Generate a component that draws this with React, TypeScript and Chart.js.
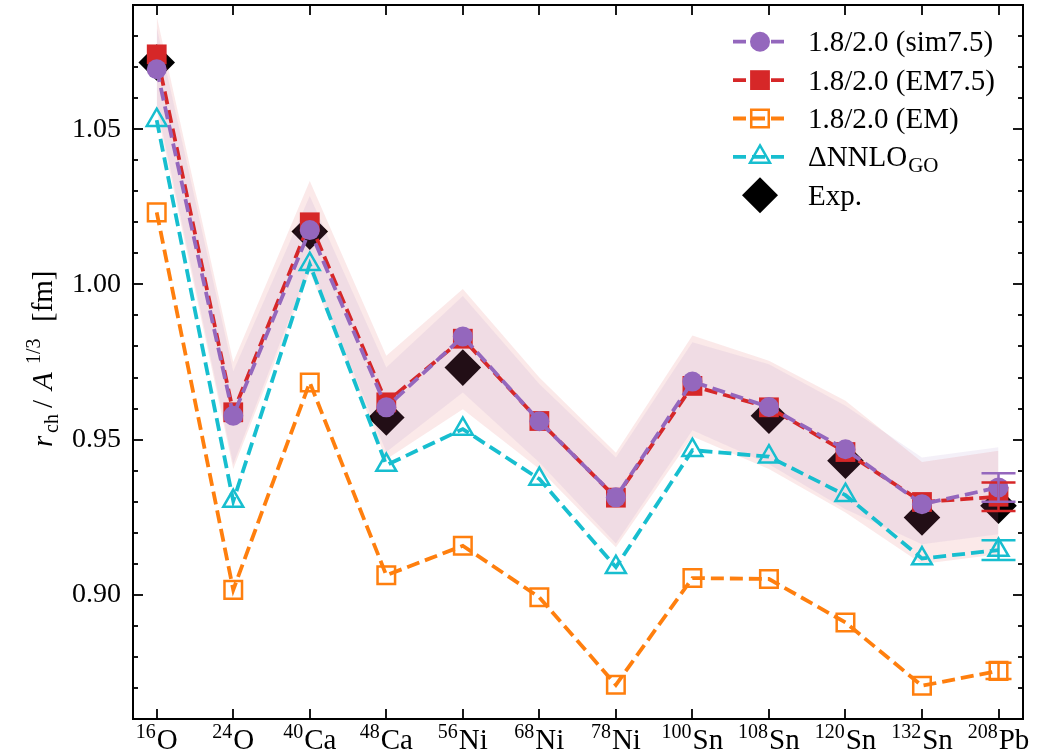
import React, { useEffect, useRef } from 'react';
import { Chart, registerables } from 'chart.js';

Chart.register(...registerables);

// ---------- data ----------
const massNumbers = ['16', '24', '40', '48', '56', '68', '78', '100', '108', '120', '132', '208'];
const elementSymbols = ['O', 'O', 'Ca', 'Ca', 'Ni', 'Ni', 'Ni', 'Sn', 'Sn', 'Sn', 'Sn', 'Pb'];

const yTickValues = [0.9, 0.95, 1.0, 1.05];

const sim75 = [1.0693, 0.9577, 1.0175, 0.9604, 0.9832, 0.9559, 0.9314, 0.9687, 0.9605, 0.9469, 0.9292, 0.9346];
const em75 = [1.0741, 0.9588, 1.02, 0.962, 0.9825, 0.956, 0.9313, 0.9673, 0.9604, 0.946, 0.9299, 0.9316];
const emPlain = [1.0232, 0.9016, 0.9684, 0.9063, 0.9158, 0.8992, 0.871, 0.9054, 0.9051, 0.8911, 0.8707, 0.8755];
const dnnloGO = [1.0529, 0.9302, 1.0065, 0.9418, 0.9534, 0.9373, 0.9089, 0.9466, 0.9445, 0.9321, 0.9117, 0.9144];
const expValues = [1.0715, null, 1.017, 0.9571, 0.9732, null, null, null, 0.9577, 0.9432, 0.9249, 0.9287];

const sim75Err = [null, null, null, null, null, null, null, null, null, null, null, 0.0046];
const em75Err = [null, null, null, null, null, null, null, null, null, null, null, 0.0046];
const emPlainErr = [null, null, null, null, null, null, null, null, null, null, null, 0.0026];
const dnnloErr = [null, null, null, null, null, null, null, null, null, null, null, 0.0032];

const em75BandLow = [1.056, 0.9405, 1.004, 0.9437, 0.9598, 0.9405, 0.9153, 0.951, 0.9405, 0.9265, 0.9099, 0.9131];
const em75BandHigh = [1.0864, 0.975, 1.0333, 0.977, 0.9985, 0.97, 0.9458, 0.9835, 0.9754, 0.9625, 0.9428, 0.9464];
const sim75BandLow = [1.058, 0.9421, 1.006, 0.946, 0.9652, 0.9426, 0.9165, 0.953, 0.9421, 0.9276, 0.9163, 0.9195];
const sim75BandHigh = [1.0828, 0.972, 1.0285, 0.9732, 0.9963, 0.9679, 0.9442, 0.9814, 0.9743, 0.9609, 0.9442, 0.9475];

const labelSim = '1.8/2.0 (sim7.5)';
const labelEM75 = '1.8/2.0 (EM7.5)';
const labelEM = '1.8/2.0 (EM)';
const labelDNNLO = '\u0394NNLO';
const labelDNNLOSub = 'GO';
const labelExp = 'Exp.';

// ---------- styles ----------
const PURPLE = '#9467bd';
const RED = '#d62728';
const ORANGE = '#ff7f0e';
const CYAN = '#17becf';
const FONT = "'Liberation Serif', 'Times New Roman', serif";
const DASH = [13, 6];
const LW = 3.8;

const pts = (arr: (number | null)[]) => arr.map((v, i) => ({ x: i, y: v }));

// ---------- marker helper (legend) ----------
function drawMarker(ctx: CanvasRenderingContext2D, kind: string, x: number, y: number, r: number, color: string, filled: boolean, lw: number) {
  ctx.save();
  ctx.setLineDash([]);
  ctx.beginPath();
  if (kind === 'circle') {
    ctx.arc(x, y, r, 0, Math.PI * 2);
  } else if (kind === 'rect') {
    const s = Math.SQRT1_2 * r;
    ctx.rect(x - s, y - s, 2 * s, 2 * s);
  } else if (kind === 'triangle') {
    let rad = 0;
    ctx.moveTo(x + Math.sin(rad) * r, y - Math.cos(rad) * r);
    rad += (2 * Math.PI) / 3;
    ctx.lineTo(x + Math.sin(rad) * r, y - Math.cos(rad) * r);
    rad += (2 * Math.PI) / 3;
    ctx.lineTo(x + Math.sin(rad) * r, y - Math.cos(rad) * r);
    ctx.closePath();
  } else if (kind === 'rectRot') {
    ctx.moveTo(x - r, y);
    ctx.lineTo(x, y - r);
    ctx.lineTo(x + r, y);
    ctx.lineTo(x, y + r);
    ctx.closePath();
  }
  if (filled) {
    ctx.fillStyle = color;
    ctx.fill();
  } else {
    ctx.lineWidth = lw;
    ctx.strokeStyle = color;
    ctx.stroke();
  }
  ctx.restore();
}

// ---------- plugins ----------
const errorBarSets = [
  { values: emPlain, errs: emPlainErr, color: ORANGE, cap: 13 },
  { values: dnnloGO, errs: dnnloErr, color: CYAN, cap: 17 },
  { values: em75, errs: em75Err, color: RED, cap: 17 },
  { values: sim75, errs: sim75Err, color: PURPLE, cap: 17 },
];

const errorBarPlugin = {
  id: 'errorBars',
  afterDatasetsDraw(chart: any) {
    const { ctx, scales } = chart;
    const xs = scales.x;
    const ys = scales.y;
    ctx.save();
    ctx.setLineDash([]);
    ctx.lineWidth = 2.5;
    for (const set of errorBarSets) {
      ctx.strokeStyle = set.color;
      set.errs.forEach((e, i) => {
        if (e == null) return;
        const v = set.values[i];
        const px = xs.getPixelForValue(i);
        const pLo = ys.getPixelForValue(v - e);
        const pHi = ys.getPixelForValue(v + e);
        ctx.beginPath();
        ctx.moveTo(px, pLo);
        ctx.lineTo(px, pHi);
        ctx.moveTo(px - set.cap, pLo);
        ctx.lineTo(px + set.cap, pLo);
        ctx.moveTo(px - set.cap, pHi);
        ctx.lineTo(px + set.cap, pHi);
        ctx.stroke();
      });
    }
    ctx.restore();
  },
};

const framePlugin = {
  id: 'frameTicks',
  afterDraw(chart: any) {
    const { ctx, chartArea: a, scales } = chart;
    const xs = scales.x;
    const ys = scales.y;
    ctx.save();
    ctx.setLineDash([]);
    ctx.strokeStyle = '#000';
    ctx.lineWidth = 1.8;
    const line = (x1: number, y1: number, x2: number, y2: number) => {
      ctx.beginPath();
      ctx.moveTo(x1, y1);
      ctx.lineTo(x2, y2);
      ctx.stroke();
    };
    massNumbers.forEach((_, i) => {
      const px = Math.round(xs.getPixelForValue(i));
      line(px, a.bottom, px, a.bottom - 10);
      line(px, a.top, px, a.top + 10);
    });
    const kMin = Math.ceil(ys.min * 100 - 1e-6);
    const kMax = Math.floor(ys.max * 100 + 1e-6);
    for (let k = kMin; k <= kMax; k++) {
      const py = Math.round(ys.getPixelForValue(k / 100));
      const L = k % 5 === 0 ? 10 : 5;
      line(a.left, py, a.left + L, py);
      line(a.right, py, a.right - L, py);
    }
    ctx.lineWidth = 2;
    ctx.strokeRect(a.left, a.top, a.right - a.left, a.bottom - a.top);

    // x tick labels (mass number as superscript + element symbol)
    ctx.fillStyle = '#000';
    ctx.textBaseline = 'alphabetic';
    massNumbers.forEach((m, i) => {
      const px = xs.getPixelForValue(i);
      ctx.font = `20px ${FONT}`;
      const wSup = ctx.measureText(m).width;
      ctx.font = `29px ${FONT}`;
      const wSym = ctx.measureText(elementSymbols[i]).width;
      const start = px - (wSup + 1 + wSym) / 2;
      ctx.font = `20px ${FONT}`;
      ctx.fillText(m, start, 738);
      ctx.font = `29px ${FONT}`;
      ctx.fillText(elementSymbols[i], start + wSup + 1, 749);
    });

    // y-axis title, written bottom-to-top
    ctx.save();
    ctx.translate(52, 448);
    ctx.rotate(-Math.PI / 2);
    ctx.fillStyle = '#000';
    ctx.textBaseline = 'alphabetic';
    const segs = [
      { t: 'r', f: `italic 29px ${FONT}`, at: 1, dy: 0 },
      { t: 'ch', f: `20px ${FONT}`, at: 15, dy: 6 },
      { t: '/', f: `29px ${FONT}`, at: 40, dy: 0 },
      { t: 'A', f: `italic 29px ${FONT}`, at: 58, dy: 0 },
      { t: '1/3', f: `20px ${FONT}`, at: 84, dy: -12 },
      { t: '[fm]', f: `29px ${FONT}`, at: 126, dy: 0 },
    ];
    for (const s of segs) {
      ctx.font = s.f;
      ctx.fillText(s.t, s.at, s.dy);
    }
    ctx.restore();

    // legend
    const items = [
      { label: labelSim, sub: '', color: PURPLE, kind: 'circle', r: 10, filled: true, line: true },
      { label: labelEM75, sub: '', color: RED, kind: 'rect', r: 14, filled: true, line: true },
      { label: labelEM, sub: '', color: ORANGE, kind: 'rect', r: 12.4, filled: false, line: true },
      { label: labelDNNLO, sub: labelDNNLOSub, color: CYAN, kind: 'triangle', r: 11.5, filled: false, line: true },
      { label: labelExp, sub: '', color: '#000', kind: 'rectRot', r: 18, filled: true, line: false },
    ];
    items.forEach((it, i) => {
      const yy = 41.7 + 38.4 * i;
      if (it.line) {
        ctx.save();
        ctx.strokeStyle = it.color;
        ctx.lineWidth = LW;
        ctx.setLineDash(DASH);
        line(733, yy, 788, yy);
        ctx.restore();
      }
      drawMarker(ctx, it.kind, 760, yy, it.r, it.color, it.filled, 2.5);
      ctx.fillStyle = '#000';
      ctx.textBaseline = 'alphabetic';
      ctx.font = `29px ${FONT}`;
      ctx.fillText(it.label, 808, yy + 9.5);
      if (it.sub) {
        const w = ctx.measureText(it.label).width;
        ctx.font = `21px ${FONT}`;
        ctx.fillText(it.sub, 808 + w + 1, yy + 15);
      }
    });
    ctx.restore();
  },
};

// ---------- component ----------
export default function App() {
  const canvasRef = useRef<HTMLCanvasElement | null>(null);

  useEffect(() => {
    if (!canvasRef.current) return;
    const bandCommon = {
      type: 'line' as const,
      pointRadius: 0,
      borderWidth: 0,
      borderColor: 'rgba(0,0,0,0)',
      tension: 0,
    };
    const chart = new Chart(canvasRef.current, {
      type: 'line',
      data: {
        datasets: [
          {
            label: labelExp,
            data: pts(expValues),
            showLine: false,
            pointStyle: 'rectRot',
            pointRadius: 18.3,
            pointBackgroundColor: '#000',
            pointBorderColor: '#000',
            pointBorderWidth: 0,
            order: 9,
          },
          { ...bandCommon, label: 'em75 band low', data: pts(em75BandLow), fill: false, order: 8 },
          {
            ...bandCommon,
            label: 'em75 band high',
            data: pts(em75BandHigh),
            fill: '-1',
            backgroundColor: 'rgba(214,39,40,0.1)',
            order: 7,
          },
          { ...bandCommon, label: 'sim75 band low', data: pts(sim75BandLow), fill: false, order: 6 },
          {
            ...bandCommon,
            label: 'sim75 band high',
            data: pts(sim75BandHigh),
            fill: '-1',
            backgroundColor: 'rgba(148,103,189,0.1)',
            order: 5,
          },
          {
            label: labelEM,
            data: pts(emPlain),
            borderColor: ORANGE,
            borderWidth: LW,
            borderDash: DASH,
            pointStyle: 'rect',
            pointRadius: 12.4,
            pointBackgroundColor: 'rgba(0,0,0,0)',
            pointBorderColor: ORANGE,
            pointBorderWidth: 2.5,
            fill: false,
            order: 4,
          },
          {
            label: labelDNNLO + labelDNNLOSub,
            data: pts(dnnloGO),
            borderColor: CYAN,
            borderWidth: LW,
            borderDash: DASH,
            pointStyle: 'triangle',
            pointRadius: 11.5,
            pointBackgroundColor: 'rgba(0,0,0,0)',
            pointBorderColor: CYAN,
            pointBorderWidth: 2.5,
            fill: false,
            order: 3,
          },
          {
            label: labelEM75,
            data: pts(em75),
            borderColor: RED,
            borderWidth: LW,
            borderDash: DASH,
            pointStyle: 'rect',
            pointRadius: 14,
            pointBackgroundColor: RED,
            pointBorderColor: RED,
            pointBorderWidth: 0,
            fill: false,
            order: 2,
          },
          {
            label: labelSim,
            data: pts(sim75),
            borderColor: PURPLE,
            borderWidth: LW,
            borderDash: DASH,
            pointStyle: 'circle',
            pointRadius: 10,
            pointBackgroundColor: PURPLE,
            pointBorderColor: PURPLE,
            pointBorderWidth: 0,
            fill: false,
            order: 1,
          },
        ] as any,
      },
      options: {
        responsive: false,
        animation: false,
        devicePixelRatio: 1,
        layout: { autoPadding: false, padding: { left: 0, top: 5, right: 38, bottom: 0 } },
        plugins: {
          legend: { display: false },
          tooltip: { enabled: false },
          filler: { drawTime: 'beforeDatasetDraw', propagate: false },
        } as any,
        elements: { line: { tension: 0 } },
        scales: {
          x: {
            type: 'linear',
            min: -0.31,
            max: 11.32,
            grid: { display: false, drawTicks: false },
            border: { display: false },
            afterBuildTicks: (scale: any) => {
              scale.ticks = massNumbers.map((_, i) => ({ value: i }));
            },
            afterFit: (scale: any) => {
              scale.height = 33;
              scale.paddingLeft = 0;
              scale.paddingRight = 0;
            },
            ticks: { display: false },
          },
          y: {
            type: 'linear',
            min: 0.86,
            max: 1.09,
            grid: { display: false, drawTicks: false },
            border: { display: false },
            afterBuildTicks: (scale: any) => {
              scale.ticks = yTickValues.map((v) => ({ value: v }));
            },
            afterFit: (scale: any) => {
              scale.width = 133;
              scale.paddingTop = 0;
              scale.paddingBottom = 0;
            },
            ticks: {
              padding: 12,
              color: '#000',
              font: { family: FONT, size: 28 },
              callback: (v: any) => Number(v).toFixed(2),
            },
          },
        },
      } as any,
      plugins: [errorBarPlugin, framePlugin],
    });
    return () => chart.destroy();
  }, []);

  return (
    <div style={{ position: 'absolute', left: 0, top: 0, width: 1061, height: 752, background: '#fff' }}>
      <canvas ref={canvasRef} width={1061} height={752} style={{ display: 'block' }} />
    </div>
  );
}
